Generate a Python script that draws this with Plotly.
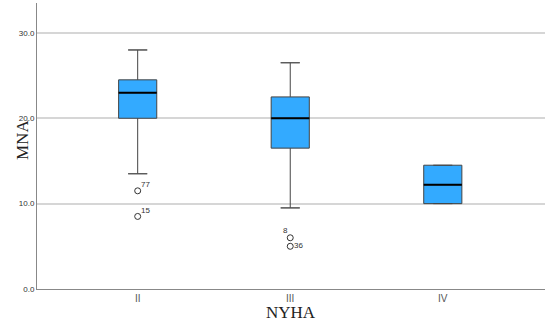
import plotly.graph_objects as go

categories = ["II", "III", "IV"]
q1 = [20.0, 16.5, 10.0]
median = [23.0, 20.0, 12.2]
q3 = [24.5, 22.5, 14.5]
lower = [13.5, 9.5, 10.0]
upper = [28.0, 26.5, 14.5]

out_cat = [0, 0, 1, 1]
out_val = [11.5, 8.5, 6.0, 5.0]
out_lab = ["77", "15", "8", "36"]
lab_pos = ["top right", "top right", "top left", "middle right"]

yticks = [0, 10, 20, 30]

xs = list(range(len(categories)))
bw = 0.25

fig = go.Figure()
fig.add_trace(go.Box(
    x=xs, q1=q1, median=median, q3=q3, lowerfence=lower, upperfence=upper,
    width=bw, fillcolor="#33aaff", line=dict(color="#444444", width=1),
    boxpoints=False, showlegend=False, hoverinfo="skip"))

shapes = []
for i in xs:
    shapes.append(dict(type="line", x0=i - bw / 2, x1=i + bw / 2, y0=median[i], y1=median[i],
                       line=dict(color="black", width=2), layer="above"))
    if upper[i] > q3[i]:
        shapes.append(dict(type="line", x0=i - bw / 4, x1=i + bw / 4, y0=upper[i], y1=upper[i],
                           line=dict(color="#555555", width=1)))
    if lower[i] < q1[i]:
        shapes.append(dict(type="line", x0=i - bw / 4, x1=i + bw / 4, y0=lower[i], y1=lower[i],
                           line=dict(color="#555555", width=1)))

fig.add_trace(go.Scatter(
    x=out_cat, y=out_val, mode="markers",
    marker=dict(symbol="circle-open", size=6, color="#333333", line=dict(width=1)),
    showlegend=False, hoverinfo="skip"))

annots = []
offsets = {"top right": (8, -6), "top left": (-5, -7), "middle right": (8, -1)}
for c, v, t, p in zip(out_cat, out_val, out_lab, lab_pos):
    dx, dy = offsets[p]
    annots.append(dict(x=c, y=v, text=t, showarrow=False, xshift=dx, yshift=-dy,
                       font=dict(size=8, color="#333333", family="Arial")))

serif = "Times New Roman, Liberation Serif, serif"
annots.append(dict(xref="paper", yref="paper", x=0, y=0.5, xshift=-15, yshift=6,
                   xanchor="center", yanchor="middle",
                   text="MNA", textangle=-90, showarrow=False,
                   font=dict(size=17, family=serif, color="#222222")))
annots.append(dict(xref="paper", yref="paper", x=0.5, y=0, yshift=-23,
                   xanchor="center", yanchor="middle",
                   text="NYHA", showarrow=False,
                   font=dict(size=17, family=serif, color="#222222")))

fig.update_layout(
    width=550, height=324,
    margin=dict(l=37, r=5, t=3, b=35, autoexpand=False),
    plot_bgcolor="white", paper_bgcolor="white",
    shapes=shapes, annotations=annots,
    xaxis=dict(range=[-0.66, 2.67], tickvals=xs, ticktext=categories,
               showgrid=False, showline=True, linecolor="#888888", linewidth=1,
               ticks="", tickfont=dict(size=10, color="#555555", family="Arial"),
               automargin=False, zeroline=False),
    yaxis=dict(range=[0, 33.5], tickvals=yticks, ticktext=[f"{v:.1f}" for v in yticks],
               showgrid=True, gridcolor="#d6d6d6", gridwidth=1.5,
               showline=True, linecolor="#888888", linewidth=1, zeroline=False,
               ticks="", tickfont=dict(size=8, color="#333333", family="Arial"),
               automargin=False),
)

fig.write_html("out.html", config={"displayModeBar": False},
               post_script="document.body.style.margin='0';")
